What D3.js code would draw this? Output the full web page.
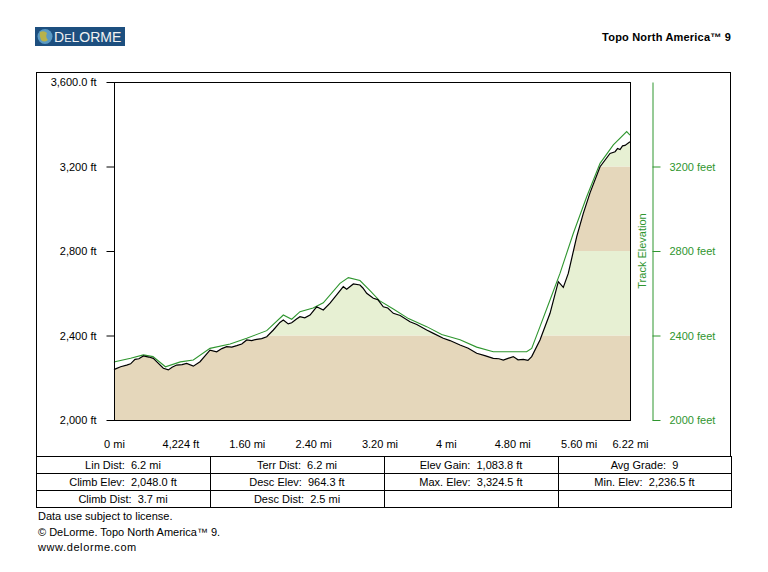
<!DOCTYPE html>
<html>
<head>
<meta charset="utf-8">
<script src="https://cdn.jsdelivr.net/npm/d3@7"></script>
<style>
  body { margin: 0; background: #fff; }
  svg { display: block; font-family: "Liberation Sans", Arial, sans-serif; }
</style>
</head>
<body>
<svg id="chart" viewBox="0 0 768 572" width="768" height="572"></svg>
<script>
// terrain profile (black line), distance in miles / elevation in feet
const terrainDist = [0, 0.012, 0.08, 0.153, 0.2, 0.253, 0.3, 0.354, 0.42, 0.474, 0.514, 0.595, 0.655, 0.7, 0.755, 0.82, 0.876, 0.956, 1.037, 1.1, 1.157, 1.238, 1.3, 1.358, 1.42, 1.479, 1.54, 1.6, 1.66, 1.72, 1.78, 1.841, 1.921, 2.0, 2.041, 2.1, 2.142, 2.2, 2.242, 2.3, 2.363, 2.443, 2.523, 2.604, 2.684, 2.764, 2.805, 2.885, 2.965, 3.0, 3.046, 3.126, 3.18, 3.246, 3.3, 3.367, 3.45, 3.568, 3.65, 3.769, 3.85, 3.969, 4.05, 4.171, 4.27, 4.372, 4.47, 4.572, 4.64, 4.693, 4.75, 4.813, 4.87, 4.934, 4.99, 5.035, 5.135, 5.256, 5.356, 5.416, 5.476, 5.577, 5.657, 5.738, 5.859, 5.979, 6.04, 6.07, 6.1, 6.13, 6.16, 6.22];
const terrainElev = [2238, 2241, 2252, 2260, 2266, 2287, 2290, 2303, 2298, 2292, 2276, 2245, 2237, 2250, 2260, 2262, 2268, 2255, 2276, 2305, 2331, 2323, 2338, 2347, 2345, 2352, 2360, 2379, 2376, 2382, 2385, 2394, 2426, 2462, 2473, 2455, 2460, 2478, 2489, 2484, 2497, 2536, 2521, 2553, 2592, 2631, 2619, 2644, 2639, 2625, 2600, 2576, 2570, 2536, 2530, 2505, 2495, 2465, 2452, 2426, 2410, 2387, 2376, 2355, 2340, 2316, 2305, 2292, 2290, 2284, 2292, 2300, 2285, 2287, 2282, 2300, 2379, 2505, 2655, 2628, 2694, 2867, 2978, 3075, 3199, 3262, 3270, 3285, 3280, 3298, 3300, 3317];

// track elevation (green line)
const trackDist = [0, 0.012, 0.2, 0.354, 0.47, 0.62, 0.8, 0.956, 1.157, 1.4, 1.6, 1.841, 2.041, 2.142, 2.242, 2.4, 2.523, 2.724, 2.825, 2.965, 3.086, 3.2, 3.367, 3.55, 3.769, 3.95, 4.171, 4.372, 4.572, 4.8, 4.974, 5.035, 5.135, 5.256, 5.376, 5.537, 5.698, 5.859, 6.019, 6.18, 6.22];
const trackElev = [2272, 2276, 2292, 2308, 2300, 2252, 2275, 2284, 2339, 2360, 2387, 2423, 2497, 2477, 2513, 2530, 2555, 2647, 2674, 2660, 2612, 2565, 2525, 2480, 2442, 2405, 2380, 2345, 2323, 2323, 2323, 2339, 2442, 2568, 2694, 2884, 3057, 3215, 3302, 3365, 3349];

// x ticks (miles) and their labels
const xTickValues = [0, 0.8, 1.6, 2.4, 3.2, 4.0, 4.8, 5.6, 6.22];
const xTickLabels = ["0 mi", "4,224 ft", "1.60 mi", "2.40 mi", "3.20 mi", "4 mi", "4.80 mi", "5.60 mi", "6.22 mi"];

// y ticks
const yTickValues = [2000, 2400, 2800, 3200, 3600];
const yTickLabels = ["2,000 ft", "2,400 ft", "2,800 ft", "3,200 ft", "3,600.0 ft"];
const rightTickValues = [2000, 2400, 2800, 3200];

// elevation bands under the terrain
const bandBreaks = [2000, 2400, 2800, 3200, 3600];
const bandColors = ["#e5d7bb", "#e7f0d3", "#e5d7bb", "#e7f0d3"];

// stats table
const statRows = [
  ["Lin Dist:  6.2 mi", "Terr Dist:  6.2 mi", "Elev Gain:  1,083.8 ft", "Avg Grade:  9"],
  ["Climb Elev:  2,048.0 ft", "Desc Elev:  964.3 ft", "Max. Elev:  3,324.5 ft", "Min. Elev:  2,236.5 ft"],
  ["Climb Dist:  3.7 mi", "Desc Dist:  2.5 mi", "", ""]
];

const footerLines = ["Data use subject to license.", "\u00A9 DeLorme. Topo North America\u2122 9.", "www.delorme.com"];

const svg = d3.select("#chart");
const plot = { left: 114, right: 630, top: 82, bottom: 420 };
const green = "#2f962f";

const xScale = d3.scaleLinear().domain([0, 6.22]).range([plot.left, plot.right]);
const yScale = d3.scaleLinear().domain([2000, 3600]).range([plot.bottom, plot.top]);

const terrain = terrainDist.map((d, i) => ({ x: d, y: terrainElev[i] }));
const track = trackDist.map((d, i) => ({ x: d, y: trackElev[i] }));

// header: logo + product name
const logo = svg.append("g");
logo.append("rect")
  .attr("x", 35).attr("y", 27).attr("width", 90).attr("height", 19)
  .attr("fill", "#1d4f7f");
logo.append("circle").attr("cx", 45).attr("cy", 36.5).attr("r", 7.5).attr("fill", "#5a9ac4");
logo.append("path")
  .attr("d", "M40,32 Q44,30 47,33 Q45,37 48,40 Q44,43 41,40 Q39,36 40,32Z")
  .attr("fill", "#b7b24a");
logo.append("text")
  .attr("x", 54).attr("y", 42)
  .attr("fill", "#f2f2f2")
  .style("font-size", "14px")
  .html('D<tspan style="font-size:11px">E</tspan>LORME');

svg.append("text")
  .attr("x", 731).attr("y", 41)
  .attr("text-anchor", "end")
  .style("font-size", "11px")
  .style("font-weight", "bold")
  .style("letter-spacing", "0.2px")
  .text("Topo North America\u2122 9");

// outer frame
svg.append("rect")
  .attr("x", 36.5).attr("y", 72.5).attr("width", 694).attr("height", 384)
  .attr("fill", "none").attr("stroke", "#000");

// bands clipped to the terrain area
const area = d3.area()
  .x((d) => xScale(d.x))
  .y0(yScale(2000))
  .y1((d) => yScale(d.y));

svg.append("clipPath").attr("id", "terrain-clip")
  .append("path").attr("d", area(terrain));

svg.append("g")
  .attr("clip-path", "url(#terrain-clip)")
  .selectAll("rect")
  .data(bandColors)
  .enter()
  .append("rect")
  .attr("x", plot.left)
  .attr("width", plot.right - plot.left)
  .attr("y", (d, i) => yScale(bandBreaks[i + 1]))
  .attr("height", (d, i) => yScale(bandBreaks[i]) - yScale(bandBreaks[i + 1]))
  .attr("fill", (d) => d);

const line = d3.line().x((d) => xScale(d.x)).y((d) => yScale(d.y));

svg.append("path")
  .attr("d", line(track))
  .attr("fill", "none")
  .attr("stroke", green)
  .attr("stroke-width", 1.1);

svg.append("path")
  .attr("d", line(terrain))
  .attr("fill", "none")
  .attr("stroke", "#000")
  .attr("stroke-width", 1.2);

// plot frame
svg.append("rect")
  .attr("x", plot.left + 0.5).attr("y", plot.top + 0.5)
  .attr("width", plot.right - plot.left).attr("height", plot.bottom - plot.top)
  .attr("fill", "none").attr("stroke", "#000");

// left axis
const yAxis = d3.axisLeft(yScale)
  .tickValues(yTickValues)
  .tickFormat((d, i) => yTickLabels[i])
  .tickSize(8).tickSizeOuter(0).tickPadding(10);
const yAxisG = svg.append("g")
  .attr("transform", `translate(${plot.left + 0.5} 0)`)
  .call(yAxis);
yAxisG.select("path").style("stroke", "none");
yAxisG.selectAll("text").style("font-size", "11px").style("fill", "#000").style("font-family", "Liberation Sans, Arial");

// bottom axis (labels only)
const xAxis = d3.axisBottom(xScale)
  .tickValues(xTickValues)
  .tickFormat((d, i) => xTickLabels[i])
  .tickSize(0).tickPadding(20);
const xAxisG = svg.append("g")
  .attr("transform", `translate(0 ${plot.bottom})`)
  .call(xAxis);
xAxisG.select("path").style("stroke", "none");
xAxisG.selectAll("text").style("font-size", "11px").style("fill", "#000").style("font-family", "Liberation Sans, Arial");

// right track-elevation axis
const rAxis = d3.axisRight(yScale)
  .tickValues(rightTickValues)
  .tickFormat((d) => d + " feet")
  .tickSize(8).tickSizeOuter(0).tickPadding(9);
const rAxisG = svg.append("g")
  .attr("transform", "translate(652.5 0)")
  .call(rAxis);
rAxisG.select("path").style("stroke", green);
rAxisG.selectAll("line").style("stroke", green);
rAxisG.selectAll("text").style("font-size", "11px").style("fill", green).style("font-family", "Liberation Sans, Arial");

svg.append("text")
  .attr("transform", "translate(646 251) rotate(-90)")
  .attr("text-anchor", "middle")
  .style("font-size", "11px")
  .style("fill", green)
  .text("Track Elevation");

// stats table
const colX = [36, 210, 384, 558, 731];
const rowY = [456, 473, 490, 507];

const tableG = svg.append("g");
statRows.forEach((row, r) => {
  row.forEach((cell, c) => {
    tableG.append("rect")
      .attr("x", colX[c] + 0.5).attr("y", rowY[r] + 0.5)
      .attr("width", colX[c + 1] - colX[c]).attr("height", rowY[r + 1] - rowY[r])
      .attr("fill", "none").attr("stroke", "#000");
    tableG.append("text")
      .attr("x", (colX[c] + colX[c + 1]) / 2)
      .attr("y", rowY[r] + 12.5)
      .attr("text-anchor", "middle")
      .style("font-size", "11px")
      .style("white-space", "pre")
      .text(cell);
  });
});

// footer
svg.append("g")
  .selectAll("text")
  .data(footerLines)
  .enter()
  .append("text")
  .attr("x", 38)
  .attr("y", (d, i) => 520 + i * 15.5)
  .style("font-size", "11px")
  .style("letter-spacing", (d, i) => (i === 2 ? "0.6px" : "0px"))
  .text((d) => d);
</script>
</body>
</html>
